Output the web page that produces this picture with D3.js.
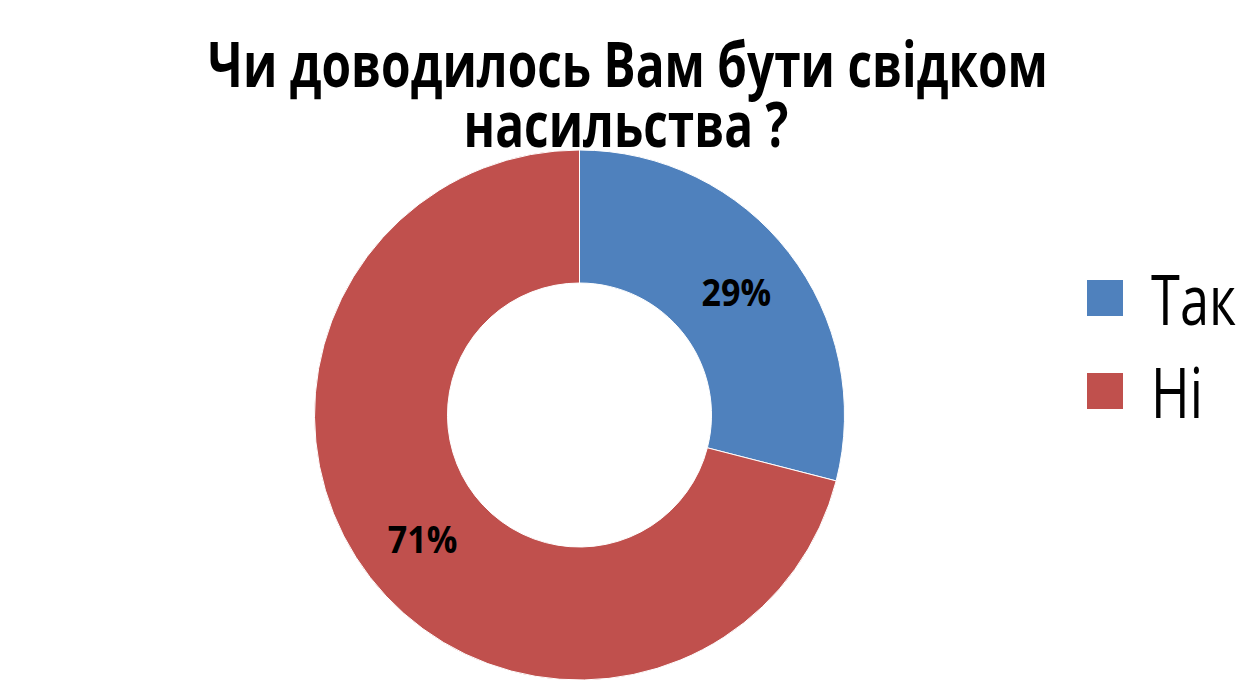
<!DOCTYPE html>
<html><head><meta charset="utf-8">
<script src="https://cdn.jsdelivr.net/npm/d3@7"></script>
<style>body{margin:0;background:#fff}svg{display:block}</style>
</head><body>
<svg id="c" width="1254" height="690"></svg>
<script>
const titleLines = ["Чи доводилось Вам бути свідком", "насильства ?"];
const categories = ["Так", "Ні"];
const values = [29, 71];
const colors = ["#4F81BD", "#C0504D"];

const svg = d3.select("#c");
const cx = 579.5, cy = 415, rOuter = 265, rInner = 132;
const font = "'Open Sans', 'Noto Sans', sans-serif";

// place text at (x,y) with horizontal compression factor k
function addText(parent, str, x, y, size, weight, anchor, k) {
  return parent.append("text")
    .attr("transform", `translate(${x},${y}) scale(${k},1)`)
    .attr("text-anchor", anchor)
    .style("font-family", font).style("font-weight", weight).style("font-size", size + "px")
    .text(str);
}

// title
const tg = svg.append("g");
const tSize = 62;
const probe = addText(tg, titleLines[0], 0, 0, tSize, "bold", "middle", 1);
const kT = 840 / probe.node().getComputedTextLength();
probe.remove();
addText(tg, titleLines[0], 628, 87, tSize, "bold", "middle", kT);
addText(tg, titleLines[1], 626, 147, tSize, "bold", "middle", kT);

// donut
const pie = d3.pie().sort(null).value(d => d)(values);
const arc = d3.arc().innerRadius(rInner).outerRadius(rOuter);
const g = svg.append("g").attr("transform", `translate(${cx},${cy})`);
g.selectAll("path").data(pie).join("path")
  .attr("d", arc).attr("fill", (d, i) => colors[i])
  .attr("stroke", "#fff").attr("stroke-width", 1);
pie.forEach((d, i) => {
  const [x, y] = arc.centroid(d);
  addText(g, d.data + "%", x, y + 13 + (i === 1 ? 3 : 0), 37, "bold", "middle", 0.92);
});

// legend
const lg = svg.append("g");
categories.forEach((c, i) => {
  const y = 280 + i * 93;
  lg.append("rect").attr("x", 1087).attr("y", y).attr("width", 36).attr("height", 36).attr("fill", colors[i]);
  addText(lg, c, 1151, y + 45, 69, "normal", "start", 0.76);
});
</script>
</body></html>
